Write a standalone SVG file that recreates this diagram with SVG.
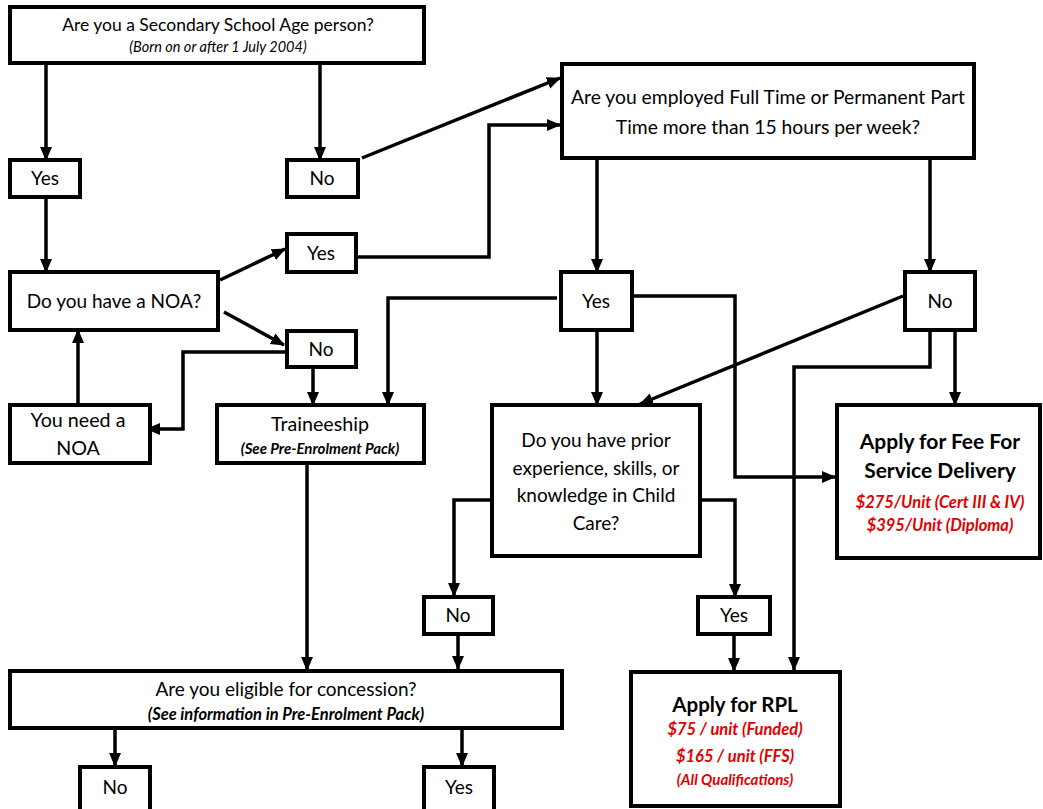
<svg xmlns="http://www.w3.org/2000/svg" width="1043" height="809" viewBox="0 0 1043 809">
<defs>
<marker id="ah" markerUnits="userSpaceOnUse" markerWidth="14" markerHeight="14" viewBox="0 0 14 14" refX="13" refY="7" orient="auto">
<path d="M0,1 L14,7 L0,13 Z" fill="#000"/>
</marker>
<style>
.b{fill:#fff;stroke:#000;stroke-width:4}
.t{font-family:Lato,"Liberation Sans",sans-serif;font-size:19px;fill:#000;text-anchor:middle}
.s{font-family:Lato,"Liberation Sans",sans-serif;font-size:14.5px;font-style:italic;fill:#000;text-anchor:middle}
.sb{font-family:Lato,"Liberation Sans",sans-serif;font-size:15px;font-style:italic;font-weight:bold;fill:#000;text-anchor:middle}
.h{font-family:Lato,"Liberation Sans",sans-serif;font-size:21px;font-weight:bold;fill:#000;text-anchor:middle}
.r{font-family:Lato,"Liberation Sans",sans-serif;font-size:16.5px;font-weight:bold;font-style:italic;fill:#e00000;text-anchor:middle}
.c{fill:none;stroke:#000;stroke-width:3.5}
.a{fill:none;stroke:#000;stroke-width:3.5;marker-end:url(#ah)}
</style>
</defs>
<rect width="1043" height="809" fill="#fff"/>
<g id="connectors">
<path class="a" d="M46,64 V160"/>
<path class="a" d="M320,64 V160"/>
<path class="a" d="M362,158 L560,78"/>
<path class="a" d="M352,257 H489 V125 H560"/>
<path class="a" d="M46,197 V272"/>
<path class="a" d="M220,280 L285,249"/>
<path class="a" d="M224,312 L284,345"/>
<path class="a" d="M287,352 H183 V429 H147"/>
<path class="a" d="M78,405 V330"/>
<path class="a" d="M313,367 V405"/>
<path class="a" d="M597,158 V272"/>
<path class="a" d="M557,298 H388 V405"/>
<path class="a" d="M632,296 H735 V477 H835"/>
<path class="a" d="M597,331 V405"/>
<path class="a" d="M930,158 V272"/>
<path class="a" d="M903,296 L640,404"/>
<path class="a" d="M930,331 V367 H794 V670"/>
<path class="a" d="M955,331 V405"/>
<path class="a" d="M492,500 H454 V596"/>
<path class="a" d="M700,500 H735 V597"/>
<path class="a" d="M458,634 V669"/>
<path class="a" d="M734,634 V671"/>
<path class="a" d="M307,463 V670"/>
<path class="a" d="M115,728 V766"/>
<path class="a" d="M462,728 V766"/>
<path class="c" d="M115,805 V809"/>
<path class="c" d="M460,805 V809"/>
</g>
<g id="n-age">
<rect class="b" x="10" y="7" width="414" height="56"/>
<text class="t" x="218" y="31" style="font-size:17.5px">Are you a Secondary School Age person?</text>
<text class="s" x="218" y="52">(Born on or after 1 July 2004)</text>
</g>
<g id="n-yes1"><rect class="b" x="10" y="160" width="70" height="37"/><text class="t" x="45" y="185">Yes</text></g>
<g id="n-no1"><rect class="b" x="287" y="160" width="71" height="37"/><text class="t" x="322" y="185">No</text></g>
<g id="n-emp">
<rect class="b" x="562" y="64" width="412" height="94"/>
<text class="t" x="768" y="104" style="font-size:19.3px">Are you employed Full Time or Permanent Part</text>
<text class="t" x="768" y="134" style="font-size:19.3px">Time more than 15 hours per week?</text>
</g>
<g id="n-noa">
<rect class="b" x="10" y="272" width="208" height="58"/>
<text class="t" x="114" y="308">Do you have a NOA?</text>
</g>
<g id="n-yes2"><rect class="b" x="287" y="234" width="69" height="38"/><text class="t" x="321" y="260">Yes</text></g>
<g id="n-no2"><rect class="b" x="287" y="331" width="69" height="36"/><text class="t" x="321" y="356">No</text></g>
<g id="n-need">
<rect class="b" x="10" y="405" width="140" height="58"/>
<text class="t" x="78" y="427" style="font-size:19.7px">You need a</text>
<text class="t" x="78" y="455" style="font-size:19.7px">NOA</text>
</g>
<g id="n-train">
<rect class="b" x="217" y="405" width="207" height="58"/>
<text class="t" x="320" y="431" style="font-size:19.7px">Traineeship</text>
<text class="sb" x="320" y="454">(See Pre-Enrolment Pack)</text>
</g>
<g id="n-yes3"><rect class="b" x="561" y="272" width="71" height="58"/><text class="t" x="596" y="308">Yes</text></g>
<g id="n-no3"><rect class="b" x="905" y="272" width="70" height="58"/><text class="t" x="940" y="308">No</text></g>
<g id="n-prior">
<rect class="b" x="492" y="405" width="208" height="151"/>
<text class="t" x="596" y="447">Do you have prior</text>
<text class="t" x="596" y="475">experience, skills, or</text>
<text class="t" x="596" y="502">knowledge in Child</text>
<text class="t" x="596" y="530">Care?</text>
</g>
<g id="n-ffs">
<rect class="b" x="837" y="405" width="203" height="153"/>
<text class="h" x="940" y="449">Apply for Fee For</text>
<text class="h" x="940" y="478">Service Delivery</text>
<text class="r" x="940" y="508">$275/Unit (Cert III &amp; IV)</text>
<text class="r" x="940" y="531">$395/Unit (Diploma)</text>
</g>
<g id="n-no4"><rect class="b" x="424" y="597" width="69" height="37"/><text class="t" x="458" y="622">No</text></g>
<g id="n-yes4"><rect class="b" x="698" y="597" width="72" height="37"/><text class="t" x="734" y="622">Yes</text></g>
<g id="n-conc">
<rect class="b" x="10" y="671" width="552" height="57"/>
<text class="t" x="286" y="696">Are you eligible for concession?</text>
<text class="sb" x="286" y="720" style="font-size:16.5px">(See information in Pre-Enrolment Pack)</text>
</g>
<g id="n-rpl">
<rect class="b" x="631" y="672" width="209" height="134"/>
<text class="h" x="735" y="712" style="font-size:20.5px">Apply for RPL</text>
<text class="r" x="735" y="735">$75 / unit (Funded)</text>
<text class="r" x="735" y="762">$165 / unit (FFS)</text>
<text class="r" x="735" y="785" style="font-size:15px">(All Qualifications)</text>
</g>
<g id="n-no5"><rect class="b" x="80" y="767" width="70" height="44"/><text class="t" x="115" y="794">No</text></g>
<g id="n-yes5"><rect class="b" x="424" y="767" width="70" height="44"/><text class="t" x="459" y="794">Yes</text></g>
</svg>
